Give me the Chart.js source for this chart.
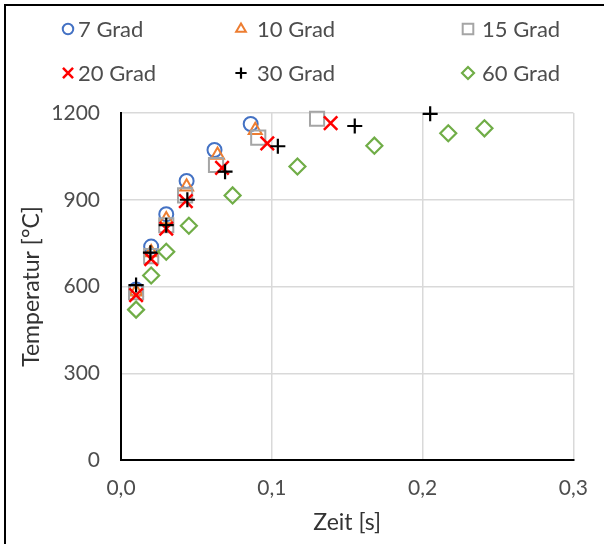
<!DOCTYPE html>
<html>
<head>
<meta charset="utf-8">
<script src="https://cdn.jsdelivr.net/npm/chart.js@4/dist/chart.umd.min.js"></script>
<style>
  html, body { margin: 0; padding: 0; background: #fff; }
  #wrap { position: relative; width: 604px; height: 544px; }
</style>
</head>
<body>
<div id="wrap"><canvas id="c" width="604" height="544"></canvas></div>
<script>
// Temperature over time for different angles
const seriesNames = ['7 Grad', '10 Grad', '15 Grad', '20 Grad', '30 Grad', '60 Grad'];

const time7  = [0.010, 0.020, 0.030, 0.0435, 0.062, 0.086];
const temp7  = [590, 738, 850, 965, 1072, 1162];

const time10 = [0.010, 0.020, 0.030, 0.0435, 0.064, 0.089];
const temp10 = [582, 718, 832, 945, 1055, 1140];

const time15 = [0.010, 0.020, 0.030, 0.0425, 0.063, 0.091, 0.130];
const temp15 = [580, 705, 812, 915, 1020, 1115, 1180];

const time20 = [0.010, 0.020, 0.030, 0.043, 0.067, 0.097, 0.139];
const temp20 = [570, 695, 800, 895, 1010, 1095, 1165];

const time30 = [0.010, 0.0195, 0.030, 0.044, 0.069, 0.104, 0.155, 0.205];
const temp30 = [605, 717, 812, 900, 997, 1085, 1155, 1197];

const time60 = [0.010, 0.020, 0.030, 0.045, 0.074, 0.117, 0.168, 0.217, 0.241];
const temp60 = [520, 638, 720, 810, 915, 1015, 1087, 1130, 1147];

const xTickLabels = ['0,0', '0,1', '0,2', '0,3'];
const yTickLabels = ['0', '300', '600', '900', '1200'];

const FONT = 'Lato, "Open Sans", sans-serif';
const TEXT = '#4d4d4d';
const TITLE = '#333333';

function pts(xs, ys) { return xs.map((x, i) => ({ x: x, y: ys[i] })); }

const styles = [
  { pointStyle: 'circle',   color: '#4472C4', radius: 7,   width: 2 },
  { pointStyle: 'triangle', color: '#ED7D31', radius: 7.5, width: 2 },
  { pointStyle: 'rect',     color: '#A5A5A5', radius: 10,  width: 2 },
  { pointStyle: 'crossRot', color: '#FF0000', radius: 9.5, width: 2.5 },
  { pointStyle: 'cross',    color: '#000000', radius: 7.5, width: 2.2 },
  { pointStyle: 'rectRot',  color: '#70AD47', radius: 8,   width: 2.2 }
];
const seriesData = [
  pts(time7, temp7), pts(time10, temp10), pts(time15, temp15),
  pts(time20, temp20), pts(time30, temp30), pts(time60, temp60)
];

const datasets = seriesNames.map((name, i) => ({
  label: name,
  data: seriesData[i],
  showLine: false,
  clip: false,
  pointStyle: styles[i].pointStyle,
  pointRadius: styles[i].radius,
  pointHoverRadius: styles[i].radius,
  pointBorderColor: styles[i].color,
  pointBackgroundColor: 'rgba(0,0,0,0)',
  pointBorderWidth: styles[i].width,
  order: seriesNames.length - i
}));

// Legend in two rows of three columns, plus the frame lines
const legendCols = [68, 241, 468];
const legendTextX = [78, 257, 482];
const legendRows = [29, 73];
const legendPlugin = {
  id: 'gridLegend',
  afterDraw(chart) {
    const ctx = chart.ctx;
    ctx.save();
    // frame
    ctx.strokeStyle = '#000';
    ctx.lineWidth = 2;
    ctx.beginPath();
    ctx.moveTo(5, 544);
    ctx.lineTo(5, 5);
    ctx.lineTo(604, 5);
    ctx.stroke();

    ctx.font = '22px ' + FONT;
    ctx.textBaseline = 'middle';
    ctx.textAlign = 'left';
    seriesNames.forEach((name, i) => {
      const col = i % 3;
      const cx = legendCols[col];
      const cy = legendRows[Math.floor(i / 3)];
      const st = styles[i];
      ctx.strokeStyle = st.color;
      ctx.fillStyle = 'rgba(0,0,0,0)';
      ctx.lineWidth = st.width;
      Chart.helpers.drawPoint(ctx, {
        pointStyle: st.pointStyle,
        radius: st.radius * 0.75,
        rotation: 0,
        borderWidth: st.width
      }, cx, cy);
      ctx.fillStyle = TEXT;
      ctx.fillText(name, legendTextX[col], cy + 1);
    });
    ctx.restore();
  }
};

new Chart(document.getElementById('c'), {
  type: 'scatter',
  data: { datasets: datasets },
  plugins: [legendPlugin],
  options: {
    responsive: false,
    animation: false,
    events: [],
    layout: { padding: { top: 113, right: 26, left: 0, bottom: 0 } },
    plugins: { legend: { display: false }, tooltip: { enabled: false } },
    scales: {
      x: {
        type: 'linear',
        min: 0, max: 0.3,
        afterBuildTicks(scale) {
          scale.ticks = xTickLabels.map((t, i) => ({ value: i * 0.1 }));
        },
        afterFit(scale) { scale.height = 84; },
        grid: { color: '#D9D9D9', lineWidth: 1.5, drawTicks: false },
        border: { color: '#000', width: 2 },
        ticks: {
          padding: 16,
          color: TEXT,
          font: { family: FONT, size: 21 },
          maxRotation: 0,
          callback: (v, i) => xTickLabels[i]
        },
        title: {
          display: true,
          text: 'Zeit [s]',
          color: TITLE,
          font: { family: FONT, size: 23 },
          padding: { top: 0, bottom: 8 }
        }
      },
      y: {
        type: 'linear',
        min: 0, max: 1200,
        afterBuildTicks(scale) {
          scale.ticks = yTickLabels.map(t => ({ value: Number(t) }));
        },
        afterFit(scale) { scale.width = 121; },
        grid: { color: '#D9D9D9', lineWidth: 1.5, drawTicks: false },
        border: { color: '#000', width: 2 },
        ticks: {
          padding: 21,
          color: TEXT,
          font: { family: FONT, size: 21 },
          callback: (v, i) => yTickLabels[i]
        },
        title: {
          display: true,
          text: 'Temperatur [°C]',
          color: TITLE,
          font: { family: FONT, size: 23 },
          padding: { top: 18, bottom: 0 }
        }
      }
    }
  }
});
</script>
</body>
</html>
